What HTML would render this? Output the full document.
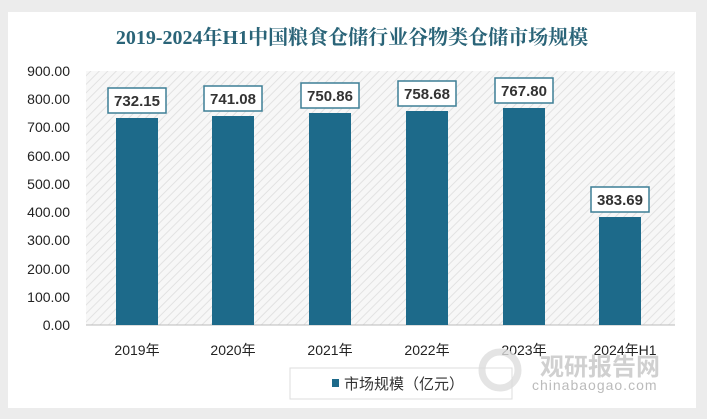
<!DOCTYPE html>
<html><head><meta charset="utf-8"><style>
body{margin:0;width:707px;height:419px;background:#ececec;font-family:"Liberation Sans","Noto Sans CJK SC",sans-serif;overflow:hidden}
</style></head><body>
<svg width="707" height="419" xmlns="http://www.w3.org/2000/svg" style="position:absolute;left:0;top:0">
<defs>
<pattern id="h" width="6" height="6" patternUnits="userSpaceOnUse" patternTransform="rotate(45)">
<rect width="6" height="6" fill="#f7f7f7"/><line x1="0" y1="0" x2="0" y2="6" stroke="#e2e2e2" stroke-width="2"/>
</pattern>
</defs>
<rect x="8" y="12" width="688" height="396" fill="#fff"/>
<text x="352" y="44" text-anchor="middle" font-size="20" font-weight="bold" fill="#2a6478" font-family="Liberation Serif,Noto Serif CJK SC,serif">2019-2024年H1中国粮食仓储行业谷物类仓储市场规模</text>
<rect x="86" y="71" width="589" height="254" fill="url(#h)"/>
<line x1="86" y1="325" x2="675" y2="325" stroke="#bbb"/>
<g font-size="14" fill="#222" text-anchor="end">
<text x="70" y="76">900.00</text><text x="70" y="104">800.00</text><text x="70" y="132">700.00</text><text x="70" y="161">600.00</text><text x="70" y="189">500.00</text><text x="70" y="217">400.00</text><text x="70" y="245">300.00</text><text x="70" y="274">200.00</text><text x="70" y="302">100.00</text><text x="70" y="330">0.00</text>
</g>
<g fill="#1d6a8a">
<rect x="116" y="118" width="42" height="207"/>
<rect x="212" y="116" width="42" height="209"/>
<rect x="309" y="113" width="42" height="212"/>
<rect x="406" y="111" width="42" height="214"/>
<rect x="503" y="108" width="42" height="217"/>
<rect x="599" y="217" width="42" height="108"/>
</g>
<g fill="#fff" stroke="#3d7f96" stroke-width="1.5">
<rect x="108" y="88" width="58" height="25"/>
<rect x="204" y="86" width="58" height="25"/>
<rect x="301" y="83" width="58" height="25"/>
<rect x="398" y="81" width="58" height="25"/>
<rect x="495" y="78" width="58" height="25"/>
<rect x="591" y="187" width="58" height="25"/>
</g>
<g font-size="15" font-weight="bold" fill="#333" text-anchor="middle">
<text x="137" y="106">732.15</text><text x="233" y="104">741.08</text><text x="330" y="101">750.86</text><text x="427" y="99">758.68</text><text x="524" y="96">767.80</text><text x="620" y="205">383.69</text>
</g>
<g font-size="14" fill="#222" text-anchor="middle">
<text x="137" y="355">2019年</text><text x="233" y="355">2020年</text><text x="330" y="355">2021年</text><text x="427" y="355">2022年</text><text x="524" y="355">2023年</text><text x="625" y="355">2024年H1</text>
</g>
<rect x="290" y="368" width="222" height="31" fill="#fff" stroke="#ddd"/>
<rect x="332" y="379" width="7" height="8" fill="#1d6a8a"/>
<text x="344" y="389" font-size="15" fill="#333">市场规模（亿元）</text>
<circle cx="500" cy="370" r="18" fill="none" stroke="#ddd" stroke-width="7" opacity="0.8"/>
<text x="540" y="375" font-size="24" font-weight="bold" fill="#ccc" opacity="0.9">观研报告网</text>
<text x="532" y="390" font-size="14" fill="#bbb" letter-spacing="1">chinabaogao.com</text>
</svg>
</body></html>
